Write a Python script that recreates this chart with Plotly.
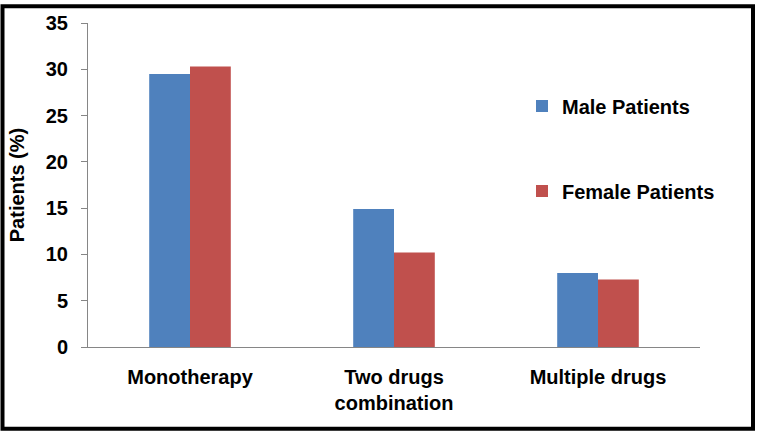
import plotly.graph_objects as go

categories = ["Monotherapy", "Two drugs<br>combination", "Multiple drugs"]
male = [29.5, 14.9, 8.0]
female = [30.3, 10.2, 7.3]
y_ticks = [0, 5, 10, 15, 20, 25, 30, 35]

FONT = "Liberation Sans, Arial, sans-serif"

fig = go.Figure()
fig.add_trace(go.Bar(x=categories, y=male, name="Male Patients",
                     marker=dict(color="#4F81BD", line=dict(width=0)),
                     legendgroup="m"))
fig.add_trace(go.Bar(x=categories, y=female, name="Female Patients",
                     marker=dict(color="#C0504D", line=dict(width=0)),
                     legendgroup="f"))

L, R, T, B = 88, 60, 20, 86
W, H = 760, 433
pw = W - L - R
ph = H - T - B

def px_x(p):
    return (p - L) / pw

def px_y(p):
    return (H - B - p) / ph

fig.update_layout(
    width=W, height=H,
    margin=dict(l=L, r=R, t=T, b=B),
    paper_bgcolor="white", plot_bgcolor="white",
    barmode="group", bargap=0.6, bargroupgap=0,
    font=dict(family=FONT, size=18, color="black", weight="bold"),
    showlegend=True,
    legend=dict(x=px_x(522), y=px_y(84), xanchor="left", yanchor="top",
                traceorder="grouped", tracegroupgap=56,
                font=dict(family=FONT, size=20, color="black", weight="bold"),
                bgcolor="rgba(0,0,0,0)"),
    xaxis=dict(showline=True, linecolor="#868686", linewidth=1,
               ticks="", ticklabelstandoff=12,
               tickfont=dict(family=FONT, size=20, color="black", weight="bold"),
               showgrid=False),
    yaxis=dict(range=[0, 35], tickvals=y_ticks, showline=True,
               linecolor="#868686", linewidth=1, ticks="outside",
               ticklen=6, tickcolor="#868686", showgrid=False, zeroline=False,
               ticklabelstandoff=9,
               tickfont=dict(family=FONT, size=20, color="black", weight="bold"),
               title=dict(text="Patients (%)", standoff=15,
                          font=dict(family=FONT, size=20, color="black", weight="bold"))),
    shapes=[dict(type="rect", xref="paper", yref="paper",
                 x0=px_x(2.5), x1=px_x(753), y0=px_y(3), y1=px_y(429.5),
                 line=dict(color="black", width=4), fillcolor="rgba(0,0,0,0)",
                 layer="above")],
)

fig.write_html("out.html", config={"displayModeBar": False},
               post_script="document.body.style.margin='0px';document.body.style.padding='0px';")
